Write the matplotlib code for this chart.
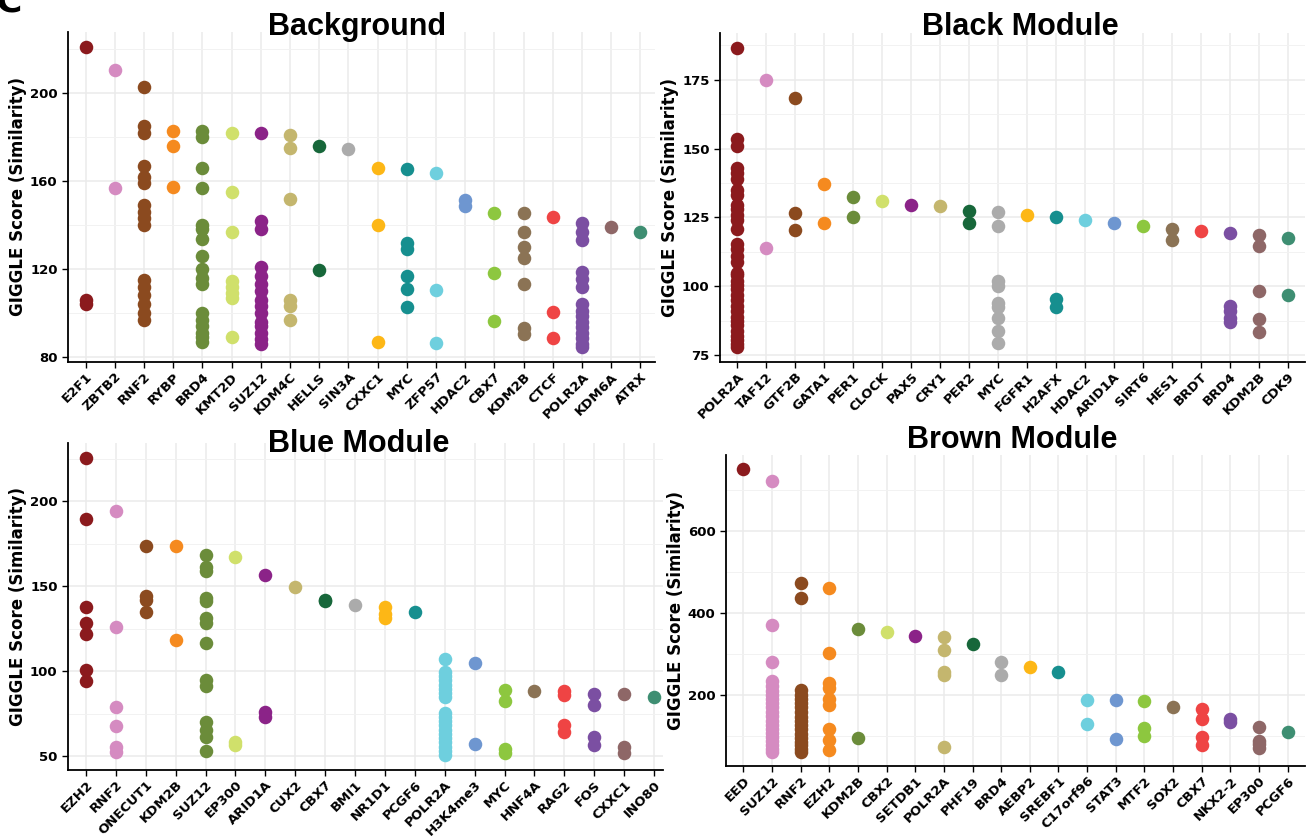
import matplotlib
matplotlib.use("Agg")
import matplotlib.pyplot as plt
from matplotlib.ticker import FixedLocator

# colour for each category slot (same order in every panel)
palette = ["#8B1A1D", "#D58BC1", "#8B4A1F", "#F58A1F", "#6B8C3A",
           "#D0E06B", "#8B2388", "#C4B66E", "#17673A", "#ABABAB",
           "#FDB716", "#168F8F", "#6ECFDE", "#6E96D0", "#8DC73F",
           "#8B7355", "#EF4444", "#7B4FA2", "#8E6767", "#3E8E72"]

bg_genes = ["E2F1", "ZBTB2", "RNF2", "RYBP", "BRD4", "KMT2D", "SUZ12", "KDM4C", "HELLS", "SIN3A",
            "CXXC1", "MYC", "ZFP57", "HDAC2", "CBX7", "KDM2B", "CTCF", "POLR2A", "KDM6A", "ATRX"]
bg_scores = [
    [221, 106, 104],
    [210.5, 157],
    [203, 185, 182, 167, 162, 159, 149, 146, 143, 140, 115, 112, 108, 104, 100, 97],
    [183, 176, 157.5],
    [183, 180, 166, 157, 140, 138, 133.5, 126, 120, 116, 113, 100, 97, 94, 91, 89, 87],
    [182, 155, 137, 114.5, 112, 109, 107, 89],
    [182, 142, 138, 121, 117, 113, 110, 106, 103, 100, 96, 94, 91, 88, 86],
    [181, 175, 152, 106, 103, 97],
    [176, 119.5],
    [174.5],
    [166, 140, 87],
    [165.5, 132, 129, 117, 111, 102.5],
    [163.5, 110.5, 86.5],
    [151.5, 148.5],
    [145.5, 118, 96.5],
    [145.5, 137, 130, 125, 113, 93, 90.5],
    [143.5, 100.5, 88.5],
    [141, 137, 133, 118.5, 115.5, 112, 104, 101, 98.5, 96, 93.5, 91, 88.5, 86, 84.5],
    [139],
    [137],
]

bk_genes = ["POLR2A", "TAF12", "GTF2B", "GATA1", "PER1", "CLOCK", "PAX5", "CRY1", "PER2", "MYC",
            "FGFR1", "H2AFX", "HDAC2", "ARID1A", "SIRT6", "HES1", "BRDT", "BRD4", "KDM2B", "CDK9"]
bk_scores = [
    [186.5, 153.5, 151, 143, 141, 139, 135, 133, 129.5, 128, 126, 124, 121, 115.5, 113.5, 111, 109,
     105, 104, 102, 100.5, 99, 97, 95, 93, 91, 89, 87.5, 86, 84, 82, 80.5, 79, 78],
    [175, 114],
    [168.5, 126.5, 120.5],
    [137, 123],
    [132.5, 125],
    [131],
    [129.5],
    [129],
    [127.5, 123],
    [127, 122, 102, 100, 94, 92.5, 88.5, 84, 79.5],
    [126],
    [125, 95.5, 92.5],
    [124],
    [123],
    [122],
    [121, 117],
    [120],
    [119.5, 93, 91, 88.5, 87],
    [118.5, 114.5, 98.5, 88, 83.5],
    [117.5, 97],
]

bl_genes = ["EZH2", "RNF2", "ONECUT1", "KDM2B", "SUZ12", "EP300", "ARID1A", "CUX2", "CBX7", "BMI1",
            "NR1D1", "PCGF6", "POLR2A", "H3K4me3", "MYC", "HNF4A", "RAG2", "FOS", "CXXC1", "INO80"]
bl_scores = [
    [225.5, 189.5, 137.5, 128, 122, 100.5, 94],
    [194, 126, 79, 67.5, 55, 52.5],
    [173.5, 144, 142, 135],
    [173.5, 118.5],
    [168.5, 161, 159, 143, 141, 131, 128.5, 116.5, 95, 91, 70, 65.5, 61, 53],
    [167, 58, 56.5],
    [156.5, 76, 73],
    [149.5],
    [142, 141],
    [139],
    [137.5, 133.5, 131],
    [135],
    [107, 99.5, 97, 94.5, 92, 89.5, 87, 84.5, 75.5, 73, 70.5, 68, 65.5, 63, 60.5, 58, 55.5, 53, 50.5],
    [105, 57],
    [89, 82.5, 54, 52],
    [88.5],
    [88, 86, 68, 64],
    [86.5, 80, 61, 56.5],
    [86.5, 55.5, 52],
    [84.5],
]

br_genes = ["EED", "SUZ12", "RNF2", "EZH2", "KDM2B", "CBX2", "SETDB1", "POLR2A", "PHF19", "BRD4",
            "AEBP2", "SREBF1", "C17orf96", "STAT3", "MTF2", "SOX2", "CBX7", "NKX2-2", "EP300", "PCGF6"]
br_scores = [
    [750],
    [722, 370, 280, 235, 222, 210, 200, 190, 180, 170, 160, 150, 138, 128, 118, 108, 98, 88, 78, 70, 62],
    [473, 437, 212, 200, 190, 180, 170, 160, 148, 138, 128, 118, 105, 95, 85, 78, 70, 62],
    [460, 303, 230, 218, 190, 176, 118, 92, 66],
    [361, 96],
    [353],
    [345],
    [342, 310, 257, 248, 74],
    [325],
    [280, 250],
    [269],
    [256],
    [189, 129],
    [187, 94],
    [185, 120, 101],
    [171],
    [166, 143, 97, 79],
    [143, 134],
    [122, 89, 80, 72],
    [111],
]

W, H = 1307, 836
fig = plt.figure(figsize=(W / 100, H / 100), dpi=100)


def px_axes(l, t, r, b):
    return fig.add_axes([l / W, 1 - b / H, (r - l) / W, (b - t) / H])


def panel(ax, title, genes, scores, major, minor, xmax, title_x, title_base):
    for i, (g, vals) in enumerate(zip(genes, scores)):
        ax.scatter([i] * len(vals), vals, s=95, color=palette[i], linewidths=0, zorder=3)
    ax.set_xlim(-0.6, xmax)
    ax.margins(y=0.05)
    ax.set_xticks(range(len(genes)))
    ax.set_xticklabels(genes, rotation=45, ha="right", rotation_mode="anchor",
                       fontsize=9.5, fontweight="bold")
    ax.yaxis.set_major_locator(FixedLocator(major))
    ax.yaxis.set_minor_locator(FixedLocator(minor))
    for lab in ax.get_yticklabels():
        lab.set_fontweight("bold")
        lab.set_fontsize(9.5)
    ax.tick_params(axis="y", which="minor", length=0)
    ax.tick_params(which="major", length=4, width=1, color="black", direction="out")
    ax.tick_params(axis="x", pad=2)
    ax.grid(True, which="major", color="#EBEBEB", lw=1.1)
    ax.grid(True, which="minor", axis="y", color="#F2F2F2", lw=0.7)
    ax.set_axisbelow(True)
    for s in ["top", "right"]:
        ax.spines[s].set_visible(False)
    for s in ["left", "bottom"]:
        ax.spines[s].set_linewidth(1.3)
    ax.set_ylabel("GIGGLE Score (Similarity)", fontsize=12, fontweight="bold", labelpad=2)
    fig.text(title_x / W, 1 - title_base / H, title, fontsize=22, fontweight="bold",
             family="Liberation Sans", ha="center", va="baseline")


ax1 = px_axes(68, 32, 655, 362)
panel(ax1, "Background", bg_genes, bg_scores, [80, 120, 160, 200], [100, 140, 180, 220], 19.5,
      357, 35)

ax2 = px_axes(720, 33, 1305, 362)
panel(ax2, "Black Module", bk_genes, bk_scores, [75, 100, 125, 150, 175],
      [87.5, 112.5, 137.5, 162.5, 187.5], 19.6, 1020, 35)

ax3 = px_axes(68, 443, 663, 770)
panel(ax3, "Blue Module", bl_genes, bl_scores, [50, 100, 150, 200], [75, 125, 175, 225], 19.3,
      359, 452)

ax4 = px_axes(726, 455, 1305, 766)
panel(ax4, "Brown Module", br_genes, br_scores, [200, 400, 600], [100, 300, 500, 700], 19.6,
      1012, 448)

# panel letter, partly off the top edge as in the source figure
fig.text(-0.004, 1.018, "C", fontsize=26, fontweight="bold", va="top", ha="left")

fig.savefig("out.png", dpi=100)
